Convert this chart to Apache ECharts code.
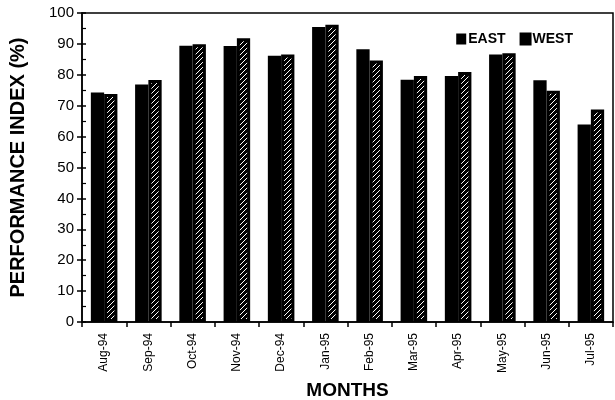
<!DOCTYPE html>
<html><head><meta charset="utf-8">
<script src="https://cdn.jsdelivr.net/npm/echarts@6/dist/echarts.min.js"></script>
<style>html,body{margin:0;padding:0;background:#fff}#c{width:615px;height:400px}</style>
</head><body><div id="c"></div>
<script>
const categories = ['Aug-94','Sep-94','Oct-94','Nov-94','Dec-94','Jan-95','Feb-95','Mar-95','Apr-95','May-95','Jun-95','Jul-95'];
const eastValues = [74.3, 76.9, 89.4, 89.3, 86.2, 95.5, 88.3, 78.4, 79.6, 86.6, 78.2, 63.9];
const westValues = [73.8, 78.3, 89.9, 91.8, 86.6, 96.2, 84.6, 79.6, 80.9, 87.0, 74.8, 68.8];
const yTicks = [0, 10, 20, 30, 40, 50, 60, 70, 80, 90, 100];

function hatch() {
  const c = document.createElement('canvas');
  c.width = 5; c.height = 5;
  const g = c.getContext('2d');
  g.fillStyle = '#000'; g.fillRect(0, 0, 5, 5);
  g.strokeStyle = '#fff'; g.lineWidth = 1;
  g.beginPath();
  g.moveTo(0, 5); g.lineTo(5, 0);
  g.moveTo(-1, 1); g.lineTo(1, -1);
  g.moveTo(4, 6); g.lineTo(6, 4);
  g.stroke();
  return c;
}

const chart = echarts.init(document.getElementById('c'));
const font = 'Liberation Sans, Arial, sans-serif';
chart.setOption({
  animation: false,
  textStyle: { fontFamily: font, color: '#000' },
  grid: { left: 82, right: 2, top: 13, bottom: 78, outerBoundsMode: 'none', containLabel: false,
          show: true, borderColor: '#000', borderWidth: 1.5 },
  legend: {
    right: 37, top: 27, itemWidth: 10, itemHeight: 11, itemGap: 14,
    icon: 'rect',
    textStyle: { fontFamily: font, fontSize: 14, fontWeight: 'bold', color: '#000', padding: [0,0,0,-3] },
    data: [
      { name: 'EAST', itemStyle: { color: '#000' } },
      { name: 'WEST', itemStyle: { color: '#000' } }
    ]
  },
  xAxis: {
    type: 'category', data: categories,
    name: 'MONTHS', nameLocation: 'middle', nameGap: 57,
    nameTextStyle: { fontFamily: font, fontWeight: 'bold', fontSize: 19, color: '#000' },
    axisLine: { lineStyle: { color: '#000', width: 1.5 } },
    axisTick: { show: true, length: 5, lineStyle: { color: '#000', width: 1.5 } },
    axisLabel: { rotate: 90, fontSize: 12, color: '#000', margin: 11, fontFamily: font }
  },
  yAxis: [{
    type: 'value', min: yTicks[0], max: yTicks[yTicks.length - 1], interval: 10,
    name: 'PERFORMANCE INDEX (%)', nameLocation: 'middle', nameGap: 54,
    nameTextStyle: { fontFamily: font, fontWeight: 'bold', fontSize: 20, color: '#000' },
    axisLine: { show: true, lineStyle: { color: '#000', width: 1.5 } },
    axisTick: { show: true, length: 5, lineStyle: { color: '#000', width: 1.5 } },
    axisLabel: { fontSize: 15, color: '#000', margin: 8, fontFamily: font },
    splitLine: { show: false }
  }, {
    type: 'value', min: yTicks[0], max: yTicks[yTicks.length - 1], interval: 10, position: 'left',
    axisLine: { show: false },
    axisTick: { show: true, inside: true, length: 4, lineStyle: { color: '#000', width: 1.5 } },
    minorTick: { show: true, splitNumber: 2, length: 4, lineStyle: { color: '#000', width: 1.2 } },
    axisLabel: { show: false }, splitLine: { show: false }
  }],
  series: [{
    name: 'EAST', type: 'bar', data: eastValues, barGap: '0%', barCategoryGap: '40%',
    itemStyle: { color: '#000' }
  }, {
    name: 'WEST', type: 'bar', data: westValues,
    itemStyle: { color: { image: hatch(), repeat: 'repeat' }, borderColor: '#000', borderWidth: 3 }
  }]
});
</script>
</body></html>
